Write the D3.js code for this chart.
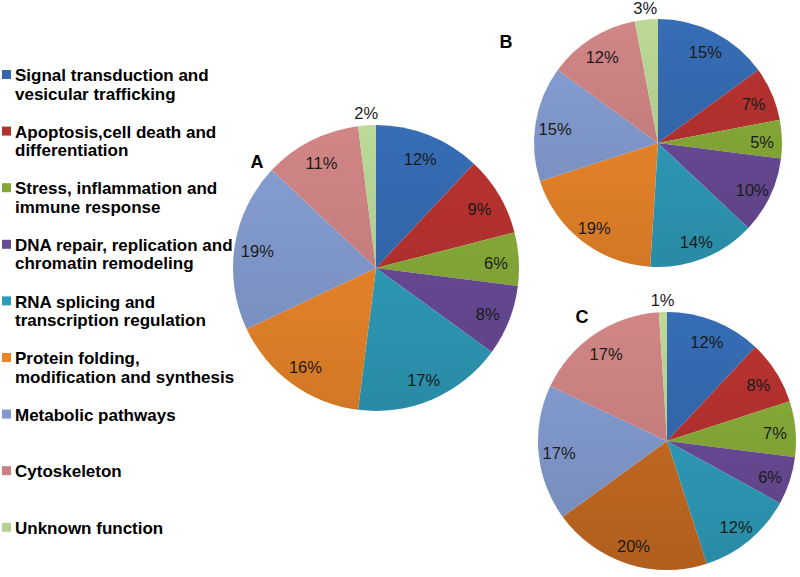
<!DOCTYPE html>
<html>
<head>
<meta charset="utf-8">
<style>
  body { margin: 0; background: #fff; }
  svg { display: block; font-family: "Liberation Sans", Arial, sans-serif; }
</style>
</head>
<body>
<svg id="chart"></svg>
<script src="https://d3js.org/d3.v7.min.js"></script>
<script>
  const width = 800, height = 577;

  // categories, in slice order (clockwise from 12 o'clock)
  const categories = [
    ["Signal transduction and", "vesicular trafficking"],
    ["Apoptosis,cell death and", "differentiation"],
    ["Stress, inflammation and", "immune response"],
    ["DNA repair, replication and", "chromatin remodeling"],
    ["RNA splicing and", "transcription regulation"],
    ["Protein folding,", "modification and synthesis"],
    ["Metabolic pathways"],
    ["Cytoskeleton"],
    ["Unknown function"]
  ];
  const colors = ["#3468ad", "#b2312f", "#84a838", "#674a94", "#2e9bb8", "#ea8429", "#8198cc", "#c98080", "#b4d092"];

  // percentages for each panel
  const valuesA = [12, 9, 6, 8, 17, 16, 19, 11, 2];
  const valuesB = [15, 7, 5, 10, 14, 19, 15, 12, 3];
  const valuesC = [12, 8, 7, 6, 12, 20, 17, 17, 1];

  const panels = [
    {name: "A", values: valuesA, cx: 376, cy: 268, r: 143, lx: 257, ly: 168},
    {name: "B", values: valuesB, cx: 658, cy: 143, r: 124, lx: 506, ly: 48},
    {name: "C", values: valuesC, cx: 667, cy: 441, r: 129, lx: 582, ly: 323, orange: "#c46a22"}
  ];

  const svg = d3.select("#chart").attr("width", width).attr("height", height);
  const defs = svg.append("defs");

  const pie = d3.pie().sort(null).value(d => d);

  panels.forEach(p => {
    const g = svg.append("g").attr("transform", `translate(${p.cx},${p.cy})`);
    const cols = colors.slice();
    if (p.orange) cols[5] = p.orange;

    cols.forEach((c, i) => {
      const grad = defs.append("linearGradient")
        .attr("id", `g${p.name}${i}`)
        .attr("gradientUnits", "userSpaceOnUse")
        .attr("x1", 0).attr("y1", -p.r).attr("x2", 0).attr("y2", p.r);
      grad.append("stop").attr("offset", 0).attr("stop-color", d3.color(c).brighter(0.12));
      grad.append("stop").attr("offset", 1).attr("stop-color", d3.color(c).darker(0.3));
    });

    const arc = d3.arc().innerRadius(0).outerRadius(p.r);
    const arcs = pie(p.values);

    g.selectAll("path.slice")
      .data(arcs)
      .enter().append("path")
      .attr("class", "slice")
      .attr("d", arc)
      .attr("fill", (d, i) => `url(#g${p.name}${i})`);

    const inner = d3.arc().innerRadius(p.r * 0.84).outerRadius(p.r * 0.84);
    const outer = d3.arc().innerRadius(p.r + 12).outerRadius(p.r + 12);

    g.selectAll("text.pct")
      .data(arcs)
      .enter().append("text")
      .attr("class", "pct")
      .attr("transform", d => `translate(${(d.data < 4 ? outer : inner).centroid(d)})`)
      .attr("text-anchor", "middle")
      .attr("dy", d => d.data < 4 ? "0.36em" : "0.5em")
      .attr("font-size", 16.5)
      .attr("fill", "#1a1a1a")
      .text(d => d.data + "%");

    svg.append("text")
      .attr("x", p.lx).attr("y", p.ly)
      .attr("text-anchor", "middle")
      .attr("font-size", 18)
      .attr("font-weight", "bold")
      .attr("fill", "#000")
      .text(p.name);
  });

  // legend
  const legend = svg.append("g").attr("transform", "translate(0,75)");
  const item = legend.selectAll("g.item")
    .data(categories)
    .enter().append("g")
    .attr("class", "item")
    .attr("transform", (d, i) => `translate(0,${i * 56.6})`);

  item.append("rect")
    .attr("x", 2).attr("y", -5).attr("width", 9).attr("height", 9)
    .attr("fill", (d, i) => colors[i]);

  item.append("text")
    .attr("x", 15)
    .attr("font-size", 17)
    .attr("font-weight", "bold")
    .attr("fill", "#000")
    .selectAll("tspan")
    .data(d => d)
    .enter().append("tspan")
    .attr("x", 15)
    .attr("y", (d, i) => i * 18.4)
    .attr("dy", "0.36em")
    .text(d => d);
</script>
</body>
</html>
